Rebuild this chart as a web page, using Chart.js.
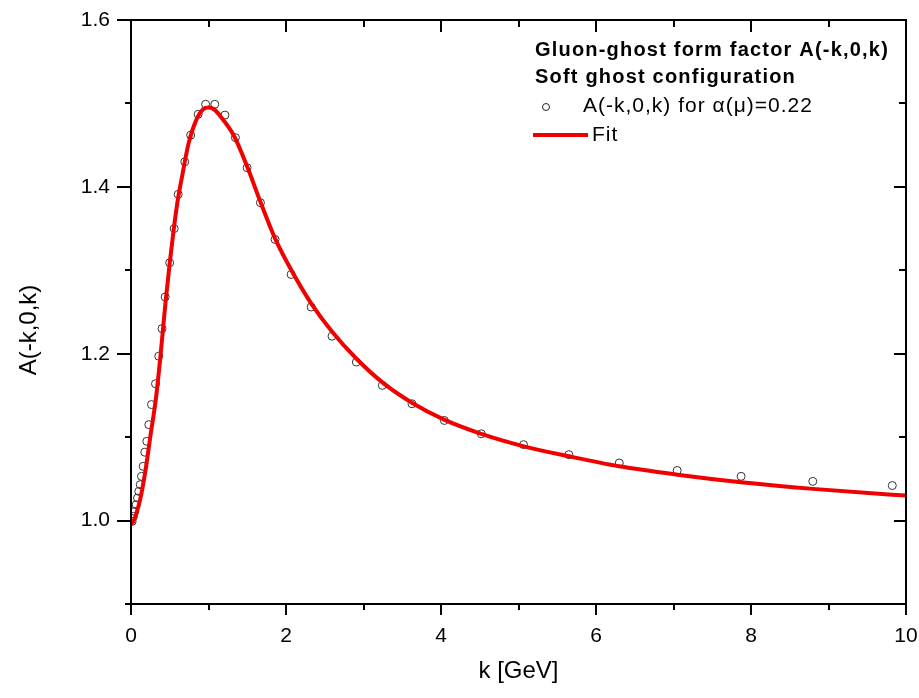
<!DOCTYPE html>
<html>
<head>
<meta charset="utf-8">
<title>A(-k,0,k)</title>
<script src="https://cdn.jsdelivr.net/npm/chart.js@4.4.1/dist/chart.umd.min.js"></script>
<style>
  html, body { margin: 0; padding: 0; background: #fff; }
  #wrap { width: 919px; height: 698px; }
</style>
</head>
<body>
<div id="wrap"><canvas id="myChart" width="919" height="698"></canvas></div>
<script>
// lattice points, soft ghost configuration, alpha(mu)=0.22
const kPoints = [0.015, 0.032, 0.049, 0.067, 0.084, 0.1, 0.119, 0.135, 0.157, 0.178, 0.204, 0.23, 0.264,
  0.316, 0.358, 0.4, 0.441, 0.499, 0.557, 0.609, 0.694, 0.77, 0.867, 0.963, 1.081, 1.212, 1.347, 1.498,
  1.67, 1.859, 2.066, 2.324, 2.594, 2.908, 3.243, 3.626, 4.043, 4.52, 5.065, 5.65, 6.3, 7.047, 7.872,
  8.797, 9.823];
const aPoints = [0.999, 1.005, 1.011, 1.019, 1.027, 1.035, 1.043, 1.053, 1.065, 1.082, 1.095, 1.115, 1.139,
  1.164, 1.197, 1.23, 1.268, 1.309, 1.35, 1.391, 1.43, 1.462, 1.487, 1.499, 1.499, 1.486, 1.459, 1.423,
  1.381, 1.337, 1.295, 1.256, 1.221, 1.19, 1.162, 1.14, 1.12, 1.104, 1.091, 1.079, 1.069, 1.06, 1.053,
  1.047, 1.042];

// fit curve
const kFit = [0, 0.03, 0.06, 0.12, 0.19, 0.25, 0.32, 0.38, 0.445, 0.5, 0.55, 0.6, 0.66, 0.745, 0.85, 0.93,
  1.0, 1.07, 1.15, 1.33, 1.5, 1.67, 1.86, 2.07, 2.32, 2.59, 2.91, 3.24, 3.63, 4.04, 4.52, 5.07, 5.65, 6.3,
  7.05, 7.87, 8.8, 9.82, 10];
const aFit = [0.996, 0.999, 1.006, 1.026, 1.062, 1.101, 1.145, 1.197, 1.261, 1.309, 1.348, 1.382, 1.413,
  1.453, 1.482, 1.493, 1.495, 1.493, 1.485, 1.461, 1.424, 1.382, 1.338, 1.3, 1.261, 1.227, 1.194, 1.166,
  1.141, 1.121, 1.104, 1.089, 1.077, 1.065, 1.055, 1.046, 1.038, 1.031, 1.03];

const xTickVals = [0, 2, 4, 6, 8, 10];
const yTickVals = [1.0, 1.2, 1.4, 1.6];
const xMinorVals = [1, 3, 5, 7, 9];
const yMinorVals = [0.9, 1.1, 1.3, 1.5];

const legendTitle = ["Gluon-ghost form factor A(-k,0,k)", "Soft ghost configuration"];
const legendPoints = "A(-k,0,k) for \u03b1(\u03bc)=0.22";
const legendFit = "Fit";

const FONT = "'Liberation Sans', Arial, sans-serif";

const toXY = (xs, ys) => xs.map((x, i) => ({ x: x, y: ys[i] }));

// box round the plot, ticks on all four sides, y title and the legend
const framePlugin = {
  id: "frame",
  afterDraw(chart) {
    const { ctx, chartArea: a, scales } = chart;
    const sx = scales.x, sy = scales.y;
    ctx.save();
    ctx.strokeStyle = "#000";
    ctx.lineWidth = 2;
    ctx.strokeRect(a.left, a.top, a.right - a.left, a.bottom - a.top);

    const xt = [...xTickVals.map((v) => [v, true]), ...xMinorVals.map((v) => [v, false])];
    xt.forEach(([v, major]) => {
      const px = Math.round(sx.getPixelForValue(v));
      ctx.beginPath();
      ctx.moveTo(px, a.bottom);
      ctx.lineTo(px, a.bottom + (major ? 11 : 6));
      ctx.moveTo(px, a.top);
      ctx.lineTo(px, a.top + (major ? 12 : 7));
      ctx.stroke();
    });
    const yt = [...yTickVals.map((v) => [v, true]), ...yMinorVals.map((v) => [v, false])];
    yt.forEach(([v, major]) => {
      const py = Math.round(sy.getPixelForValue(v));
      ctx.beginPath();
      ctx.moveTo(a.left, py);
      ctx.lineTo(a.left - (major ? 14 : 6), py);
      ctx.moveTo(a.right, py);
      ctx.lineTo(a.right - (major ? 12 : 7), py);
      ctx.stroke();
    });

    // y axis title
    ctx.fillStyle = "#000";
    ctx.font = "24px " + FONT;
    ctx.textAlign = "center";
    ctx.textBaseline = "middle";
    ctx.translate(29, 330);
    ctx.rotate(-Math.PI / 2);
    ctx.fillText("A(-k,0,k)", 0, 0);
    ctx.restore();

    // legend
    ctx.save();
    ctx.fillStyle = "#000";
    ctx.textAlign = "left";
    ctx.textBaseline = "middle";
    ctx.letterSpacing = "1.2px";
    ctx.font = "bold 20px " + FONT;
    ctx.fillText(legendTitle[0], 535, 50);
    ctx.fillText(legendTitle[1], 535, 77);
    ctx.letterSpacing = "1px";
    ctx.font = "21px " + FONT;
    ctx.fillText(legendPoints, 583, 106);
    ctx.fillText(legendFit, 592, 135);
    ctx.beginPath();
    ctx.arc(546, 107, 3.5, 0, Math.PI * 2);
    ctx.lineWidth = 1;
    ctx.strokeStyle = "#222";
    ctx.stroke();
    ctx.beginPath();
    ctx.moveTo(533, 135);
    ctx.lineTo(588, 135);
    ctx.lineWidth = 4;
    ctx.strokeStyle = "#f00000";
    ctx.stroke();
    ctx.restore();
  },
};

const ctx = document.getElementById("myChart");

new Chart(ctx, {
  type: "scatter",
  data: {
    datasets: [
      {
        label: legendFit,
        data: toXY(kFit, aFit),
        showLine: true,
        borderColor: "#f00000",
        borderWidth: 4,
        pointRadius: 0,
        cubicInterpolationMode: "monotone",
        order: 0,
      },
      {
        label: legendPoints,
        data: toXY(kPoints, aPoints),
        showLine: false,
        pointStyle: "circle",
        pointRadius: 4,
        pointBorderWidth: 1,
        pointBorderColor: "#333",
        pointBackgroundColor: "rgba(255,255,255,0)",
        order: 1,
      },
    ],
  },
  options: {
    responsive: false,
    animation: false,
    devicePixelRatio: 1,
    layout: { padding: { top: 20, right: 13, left: 0, bottom: 0 } },
    scales: {
      x: {
        type: "linear",
        min: 0,
        max: 10,
        afterBuildTicks: (s) => { s.ticks = xTickVals.map((v) => ({ value: v })); },
        afterFit: (s) => {
          s.height = 94;
          s.paddingLeft = 0;
          s.paddingRight = 0;
        },
        grid: { display: false, drawTicks: false },
        border: { display: false },
        ticks: {
          padding: 20,
          color: "#000",
          maxRotation: 0,
          font: { family: FONT, size: 21 },
          callback: (v) => String(v),
        },
        title: {
          display: true,
          text: "k [GeV]",
          color: "#000",
          font: { family: FONT, size: 24 },
          padding: { top: 0, bottom: 12 },
        },
      },
      y: {
        type: "linear",
        min: 0.9,
        max: 1.6,
        afterBuildTicks: (s) => { s.ticks = yTickVals.map((v) => ({ value: v })); },
        afterFit: (s) => {
          s.width = 131;
          s.paddingTop = 0;
          s.paddingBottom = 0;
        },
        grid: { display: false, drawTicks: false },
        border: { display: false },
        ticks: {
          padding: 21,
          color: "#000",
          font: { family: FONT, size: 21 },
          callback: (v) => Number(v).toFixed(1),
        },
      },
    },
    plugins: {
      legend: { display: false },
      tooltip: { enabled: false },
    },
  },
  plugins: [framePlugin],
});
</script>
</body>
</html>
